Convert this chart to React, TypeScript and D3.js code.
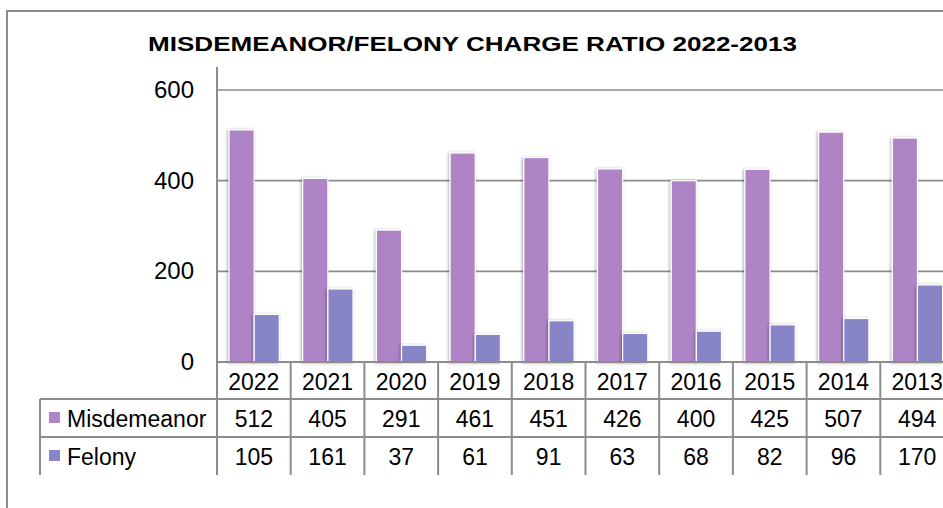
import React from "react";
import * as d3 from "d3";

const years = ["2022", "2021", "2020", "2019", "2018", "2017", "2016", "2015", "2014", "2013"];
const misdemeanor = [512, 405, 291, 461, 451, 426, 400, 425, 507, 494];
const felony = [105, 161, 37, 61, 91, 63, 68, 82, 96, 170];
const seriesNames = ["Misdemeanor", "Felony"];
const seriesColors = ["#AE84C6", "#8885C7"];
const yTicks = [0, 200, 400, 600];
const title = "MISDEMEANOR/FELONY CHARGE RATIO 2022-2013";

const W = 943;
const H = 508;
const FONT = "'Liberation Sans', Arial, sans-serif";
const GRID = "#8c8c8c";

export default function App() {
  const x0 = 217;
  const catW = 73.7;
  const x = d3.scaleBand<string>().domain(years).range([x0, x0 + catW * years.length]).padding(0);
  const xs = d3.scaleBand<string>().domain(seriesNames).range([12, 62.3]).padding(0);
  const y = d3.scaleLinear().domain([0, 600]).range([362, 90]);

  const rowTop = 362;
  const row1 = 399;
  const row2 = 437;
  const row3 = 475;
  const tableLeft = 40;
  const series = [misdemeanor, felony];

  return (
    <div style={{ position: "fixed", left: 0, top: 0, width: W, height: H, background: "#fff" }}>
      <svg width={W} height={H} style={{ display: "block" }}>
        <defs>
          <filter id="sh" x="-30%" y="-10%" width="160%" height="120%">
            <feDropShadow dx="-1" dy="0.5" stdDeviation="1.6" floodColor="#000" floodOpacity="0.35" />
          </filter>
          <filter id="tsh" x="-5%" y="-5%" width="110%" height="120%">
            <feDropShadow dx="0" dy="1.5" stdDeviation="1" floodColor="#000" floodOpacity="0.25" />
          </filter>
        </defs>
        <rect x={0} y={0} width={W} height={H} fill="#fff" />
        {/* outer border */}
        <rect x={7} y={11} width={W + 20} height={H + 20} fill="none" stroke={GRID} strokeWidth={2} />

        {/* title */}
        <text
          x={472.5}
          y={50.5}
          textAnchor="middle"
          fontFamily={FONT}
          fontWeight="bold"
          fontSize={21}
          textLength={649}
          lengthAdjust="spacingAndGlyphs"
          fill="#000"
        >
          {title}
        </text>

        {/* gridlines */}
        {yTicks.filter((t) => t > 0).map((t) => (
          <line key={t} x1={x0} x2={W} y1={y(t)} y2={y(t)} stroke={GRID} strokeWidth={1.6} />
        ))}

        {/* y tick labels */}
        {yTicks.map((t) => (
          <text key={t} x={194} y={y(t) + 8} textAnchor="end" fontFamily={FONT} fontSize={24} fill="#000">
            {t}
          </text>
        ))}

        {/* bars */}
        {years.map((yr, i) => (
          <g key={yr}>
            {series.map((vals, s) => (
              <rect
                key={s}
                x={(x(yr) as number) + (xs(seriesNames[s]) as number)}
                y={y(vals[i])}
                width={xs.bandwidth()}
                height={y(0) - y(vals[i])}
                fill={seriesColors[s]}
                stroke="#fff"
                strokeWidth={1.2}
                filter="url(#sh)"
              />
            ))}
          </g>
        ))}

        {/* table */}
        <g filter="url(#tsh)">
          <line x1={tableLeft} x2={W} y1={row3} y2={row3} stroke={GRID} strokeWidth={2} />
        </g>
        <line x1={x0} x2={W} y1={rowTop} y2={rowTop} stroke={GRID} strokeWidth={2} />
        <line x1={tableLeft} x2={W} y1={row1} y2={row1} stroke={GRID} strokeWidth={2} />
        <line x1={tableLeft} x2={W} y1={row2} y2={row2} stroke={GRID} strokeWidth={2} />
        <line x1={tableLeft} x2={tableLeft} y1={row1} y2={row3} stroke={GRID} strokeWidth={2} />
        <line x1={x0} x2={x0} y1={67} y2={row3} stroke={GRID} strokeWidth={2} />
        {years.map((yr) => (
          <line
            key={yr}
            x1={(x(yr) as number) + catW}
            x2={(x(yr) as number) + catW}
            y1={rowTop}
            y2={row3}
            stroke={GRID}
            strokeWidth={2}
          />
        ))}

        {/* year header */}
        {years.map((yr) => (
          <text
            key={yr}
            x={(x(yr) as number) + catW / 2}
            y={389.5}
            textAnchor="middle"
            fontFamily={FONT}
            fontSize={23}
            fill="#000"
          >
            {yr}
          </text>
        ))}

        {/* rows */}
        {series.map((vals, s) => {
          const base = s === 0 ? 426.5 : 464.5;
          const sqTop = s === 0 ? 412 : 450;
          return (
            <g key={s}>
              <rect x={49} y={sqTop} width={11} height={11} fill={seriesColors[s]} />
              <text x={67} y={base} fontFamily={FONT} fontSize={23} fill="#000">
                {seriesNames[s]}
              </text>
              {years.map((yr, i) => (
                <text
                  key={yr}
                  x={(x(yr) as number) + catW / 2}
                  y={base}
                  textAnchor="middle"
                  fontFamily={FONT}
                  fontSize={23}
                  fill="#000"
                >
                  {vals[i]}
                </text>
              ))}
            </g>
          );
        })}
      </svg>
    </div>
  );
}
